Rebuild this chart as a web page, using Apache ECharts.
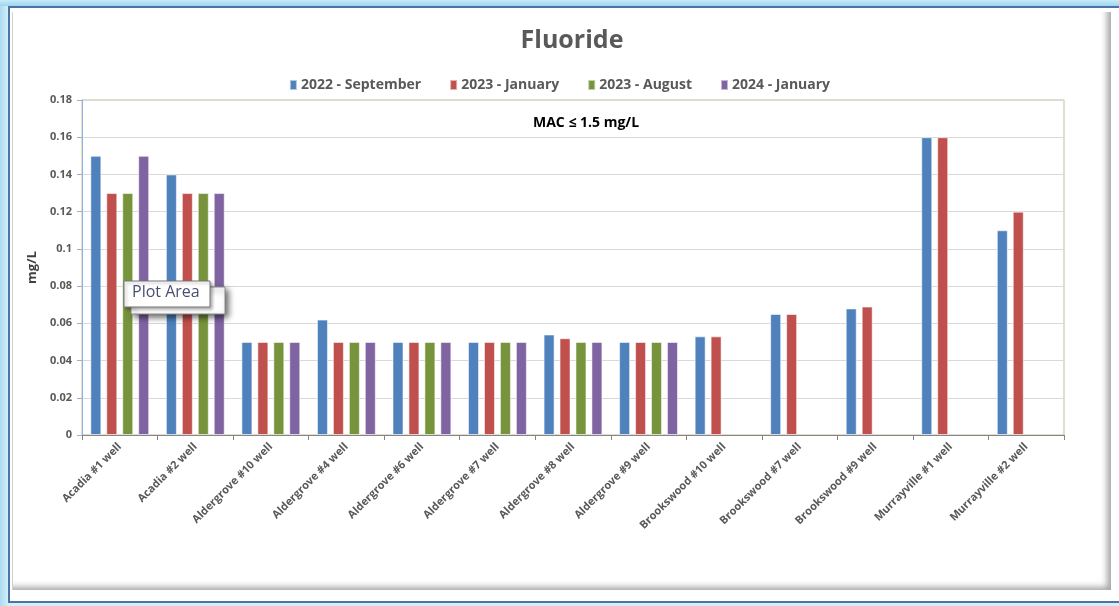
<!DOCTYPE html>
<html>
<head>
<meta charset="utf-8">
<script src="https://cdn.jsdelivr.net/npm/echarts@6/dist/echarts.min.js"></script>
<style>
html,body{margin:0;padding:0;background:#fff;}
#wrap{position:relative;width:1119px;height:606px;overflow:hidden;background:linear-gradient(to right,#a9dcef 0px,#d4eef8 8px);}
#frame{position:absolute;left:8px;top:6px;width:1120px;height:593px;border:2px solid #4a73a8;border-right:none;background:#fff;}
#inner{position:absolute;left:12px;top:12px;width:1098px;height:578px;border-left:1px solid #cfcfcf;box-shadow:inset -6px -5px 6px -2px rgba(0,0,0,0.35);background:#fff;}
#topbar{position:absolute;left:0;top:0;width:1119px;height:6px;background:linear-gradient(to bottom,#c6ecf8,#9ed6ec);}
#chart{position:absolute;left:0;top:0;width:1119px;height:606px;}
</style>
</head>
<body>
<div id="wrap">
  <div id="topbar"></div>
  <div id="frame"></div>
  <div id="inner"></div>
  <div id="chart"></div>
</div>
<script>
const categories = ["Acadia #1 well","Acadia #2 well","Aldergrove #10 well","Aldergrove #4 well","Aldergrove #6 well","Aldergrove #7 well","Aldergrove #8 well","Aldergrove #9 well","Brookswood #10 well","Brookswood #7 well","Brookswood #9 well","Murrayville #1 well","Murrayville #2 well"];
const seriesNames = ["2022 - September","2023 - January","2023 - August","2024 - January"];
const sep2022 = [0.15,0.14,0.05,0.062,0.05,0.05,0.054,0.05,0.053,0.065,0.068,0.16,0.11];
const jan2023 = [0.13,0.13,0.05,0.05,0.05,0.05,0.052,0.05,0.053,0.065,0.069,0.16,0.12];
const aug2023 = [0.13,0.13,0.05,0.05,0.05,0.05,0.05,0.05,null,null,null,null,null];
const jan2024 = [0.15,0.13,0.05,0.05,0.05,0.05,0.05,0.05,null,null,null,null,null];
const colors = ["#4f81bd","#c0504d","#77933c","#8064a2"];
const yMin = 0, yMax = 0.18, yInterval = 0.02;

const FONT = '"Open Sans",sans-serif';
const chart = echarts.init(document.getElementById('chart'), null, {renderer:'canvas'});
const dataSets = [sep2022, jan2023, aug2023, jan2024];
chart.setOption({
  backgroundColor: 'transparent',
  animation: false,
  title: {
    text: 'Fluoride', left: 567, top: 23, textAlign: 'center',
    textStyle: {fontFamily: FONT, fontSize: 25, fontWeight: 'bold', color: '#595959'}
  },
  legend: {
    data: seriesNames, top: 73, left: 'center',
    itemWidth: 7, itemHeight: 10, itemGap: 28,
    icon: 'rect',
    textStyle: {fontFamily: FONT, fontSize: 14, fontWeight: 'bold', color: '#595959', padding:[0,0,0,-1]}
  },
  grid: {left: 82, right: 55, top: 100, bottom: 171, show: true, borderColor: '#c4bd97', borderWidth: 1, backgroundColor: 'transparent'},
  xAxis: {
    type: 'category', data: categories,
    axisLine: {lineStyle: {color: '#868686', width: 1}},
    axisTick: {show: true, length: 5, lineStyle: {color: '#868686'}},
    axisLabel: {rotate: 45, interval: 0, fontFamily: FONT, fontSize: 11, fontWeight: 'bold', color: '#595959', margin: 10}
  },
  yAxis: {
    type: 'value', min: yMin, max: yMax, interval: yInterval,
    name: 'mg/L', nameLocation: 'middle', nameGap: 36, nameRotate: 90,
    nameTextStyle: {fontFamily: FONT, fontSize: 13, fontWeight: 'bold', color: '#404040'},
    axisLine: {show: true, lineStyle: {color: '#8eb4e3', width: 1}},
    axisTick: {show: true, length: 5, lineStyle: {color: '#8eb4e3'}},
    splitLine: {lineStyle: {color: '#d9d9d9', width: 1}},
    axisLabel: {fontFamily: FONT, fontSize: 11, fontWeight: 'bold', color: '#595959', margin: 10,
      formatter: v => (Math.round(v*100)/100).toString()}
  },
  series: seriesNames.map((n, i) => ({
    name: n, type: 'bar', data: dataSets[i], barWidth: 11, barGap: '45%',
    itemStyle: {color: colors[i], borderColor: 'rgba(255,255,255,0.55)', borderWidth: 1}
  })),
  graphic: [
    {type: 'text', left: 533, top: 116, z: 10,
      style: {text: 'MAC ≤ 1.5 mg/L', font: 'bold 14px ' + FONT, fill: '#000'}},
    {type: 'rect', z: 20, shape: {x: 131, y: 287, width: 94, height: 27},
      style: {fill: '#fff', stroke: '#8a8a8a', lineWidth: 1, shadowBlur: 6, shadowOffsetX: 3, shadowOffsetY: 3, shadowColor: 'rgba(0,0,0,0.6)'}},
    {type: 'rect', z: 21, shape: {x: 124, y: 281, width: 86, height: 26},
      style: {fill: '#fff', stroke: '#767676', lineWidth: 1, shadowBlur: 3, shadowOffsetX: 2, shadowOffsetY: 2, shadowColor: 'rgba(0,0,0,0.3)'}},
    {type: 'text', z: 22, left: 132, top: 284,
      style: {text: 'Plot Area', font: '16px "Open Sans",sans-serif', fill: '#4a4f70'}}
  ]
});
</script>
</body>
</html>
